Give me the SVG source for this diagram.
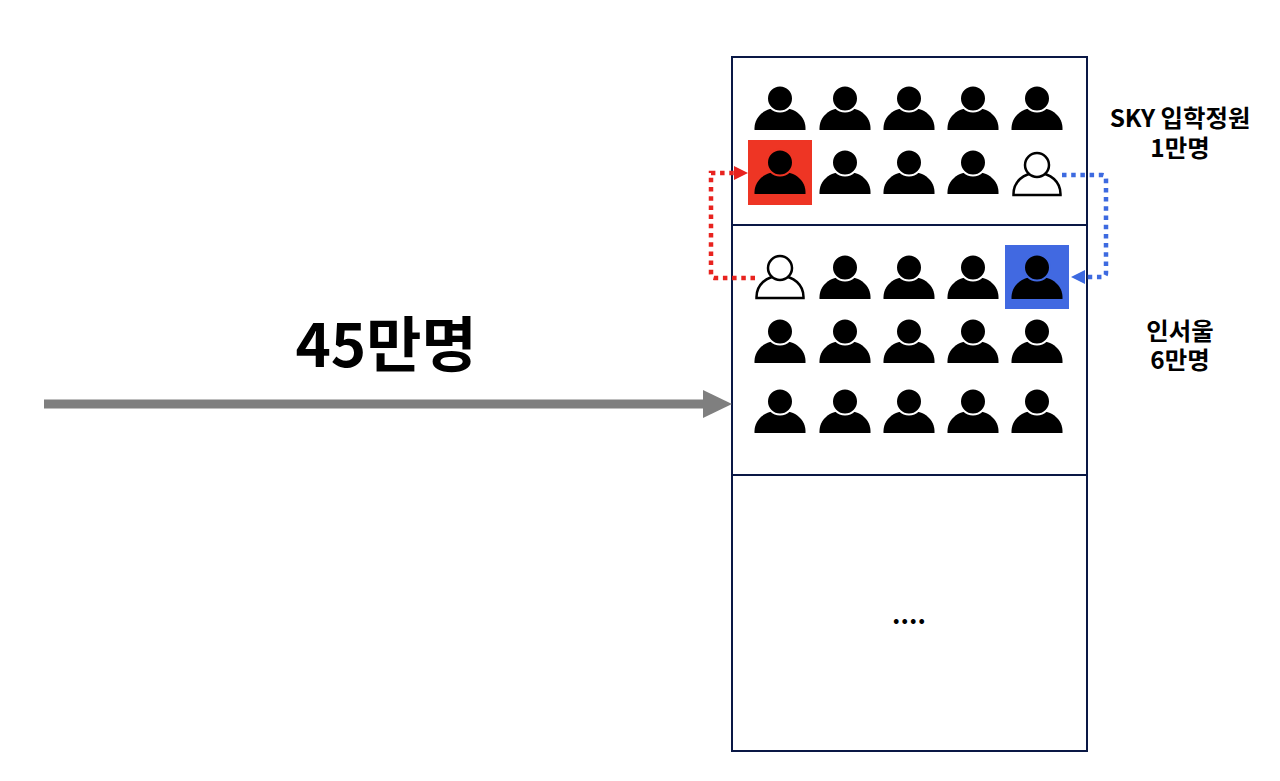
<svg xmlns="http://www.w3.org/2000/svg" width="1280" height="781" viewBox="0 0 1280 781">
<style>
text{font-family:"Noto Sans CJK KR","Noto Sans",sans-serif;font-weight:700;fill:#000;text-anchor:middle}
.lbl{font-size:24.400px}
.box{fill:none;stroke:#0a1845;stroke-width:2}
.p{color:#fff}
.on-red{color:#ee3524}
.on-blue{color:#4169e1}
.red{fill:none;stroke:#e8231f;stroke-width:4.500;stroke-dasharray:4.500 4.700}
.blue{fill:none;stroke:#3d6ae0;stroke-width:4.500;stroke-dasharray:4.500 4.700}
</style>
<defs>
<g id="person">
<path d="M-25.500 0V-1.500C-25.500-13-16-22.500 0-22.500C16-22.500 25.500-13 25.500-1.500V0Z" fill="#000"/>
<circle cx="0" cy="-31.500" r="13" fill="#000" stroke="currentColor" stroke-width="2"/>
</g>
<g id="outline">
<path d="M-23.500 0V-1C-23.500-13-14-22 0-22C14-22 23.500-13 23.500-1V0Z" fill="#fff" stroke="#000" stroke-width="2.500"/>
<circle cx="0" cy="-30" r="12" fill="#fff" stroke="#000" stroke-width="2.500"/>
</g>
</defs>
<rect width="1280" height="781" fill="#fff"/>
<g id="box-sky"><rect class="box" x="732" y="57" width="355" height="168"/></g>
<g id="box-seoul"><rect class="box" x="732" y="225" width="355" height="250"/></g>
<g id="box-rest"><rect class="box" x="732" y="475" width="355" height="276"/><text x="909" y="624" font-size="26">....</text></g>
<g id="highlight-red"><rect x="748" y="140" width="64" height="65" fill="#ee3524"/></g>
<g id="highlight-blue"><rect x="1005" y="245" width="64" height="64" fill="#4169e1"/></g>
<g id="people-sky" class="p">
<use href="#person" x="780" y="130"/><use href="#person" x="845" y="130"/><use href="#person" x="909" y="130"/><use href="#person" x="973" y="130"/><use href="#person" x="1037" y="130"/>
<use href="#person" x="780" y="194" class="on-red"/><use href="#person" x="845" y="194"/><use href="#person" x="909" y="194"/><use href="#person" x="973" y="194"/><use href="#outline" x="1037" y="195"/>
</g>
<g id="people-seoul" class="p">
<use href="#outline" x="780" y="298"/><use href="#person" x="845" y="299"/><use href="#person" x="909" y="299"/><use href="#person" x="973" y="299"/><use href="#person" x="1037" y="299" class="on-blue"/>
<use href="#person" x="780" y="363"/><use href="#person" x="845" y="363"/><use href="#person" x="909" y="363"/><use href="#person" x="973" y="363"/><use href="#person" x="1037" y="363"/>
<use href="#person" x="780" y="433"/><use href="#person" x="845" y="433"/><use href="#person" x="909" y="433"/><use href="#person" x="973" y="433"/><use href="#person" x="1037" y="433"/>
</g>
<g id="connectors">
<path d="M44 404H704" stroke="#7f7f7f" stroke-width="9" fill="none"/>
<path d="M703 390L732 404L703 418Z" fill="#7f7f7f"/>
<path class="red" d="M755 278H715Q711 278 711 274V173H735"/>
<path d="M734 166L748 173L734 180Z" fill="#e8231f"/>
<path class="blue" d="M1062 175H1102Q1106 175 1106 179V273Q1106 277 1102 277H1084"/>
<path d="M1085 270L1071 277L1085 284Z" fill="#3d6ae0"/>
</g>
<g id="labels">
<text x="386" y="367" font-size="60">45만명</text>
<text class="lbl" x="1180" y="127">SKY 입학정원</text>
<text class="lbl" x="1180" y="157">1만명</text>
<text class="lbl" x="1180" y="340">인서울</text>
<text class="lbl" x="1180" y="369">6만명</text>
</g>
</svg>
